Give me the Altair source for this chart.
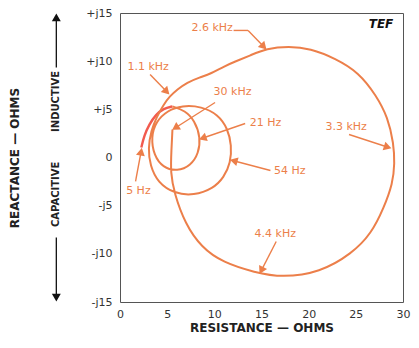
import altair as alt
import pandas as pd
import numpy as np

# ---- impedance locus (resistance, reactance) ----
start_r = [2.26, 2.57, 3.09, 3.81, 4.63, 5.56]
start_x = [1.04, 2.28, 3.43, 4.47, 5.09, 5.30]

main_r = [5.56, 6.89, 7.92, 8.54, 8.33, 7.51, 6.07, 4.53, 3.60, 3.29, 3.81, 5.04,
          6.58, 8.64, 10.39, 11.42, 11.83, 11.73, 11.01, 9.88, 7.82, 5.76, 4.01, 3.19,
          2.98, 3.29, 3.91, 4.63,
          5.25, 6.07, 7.10, 8.44, 9.67, 11.01, 12.24, 13.79, 15.53, 17.90,
          20.16, 22.84, 25.31, 27.16, 28.40, 29.01, 29.12, 28.91, 27.98, 26.65, 24.59,
          21.19, 17.18, 14.30, 10.91, 8.64, 6.89, 5.76, 5.35, 5.45, 5.56]
main_x = [5.30, 4.88, 3.84, 2.08, 0.42, -0.83, -1.45, -1.04, 0.21, 2.08, 3.74, 4.88,
          5.40, 5.30, 4.47, 3.01, 1.25, -0.52, -2.08, -3.22, -3.95, -3.74, -2.60, -0.83,
          0.93, 2.80, 4.26, 5.50,
          6.33, 7.06, 7.79, 8.31, 8.72, 9.45, 9.97, 10.59, 11.32, 11.53,
          11.32, 10.28, 8.83, 6.44, 4.15, 1.45, -0.62, -2.70, -5.19, -7.89, -9.97,
          -11.94, -12.46, -11.94, -10.90, -9.35, -6.85, -3.74, -1.56, 0.73, 2.91]

# ---- frequency labels ----
label_text = ["2.6 kHz", "1.1 kHz", "30 kHz", "21 Hz", "54 Hz", "3.3 kHz", "4.4 kHz", "5 Hz"]
label_r = [9.77, 2.98, 11.93, 15.43, 18.00, 23.97, 16.46, 1.95]
label_x = [13.40, 9.35, 6.85, 3.63, -1.45, 3.12, -7.89, -3.43]

# ---- label arrows: from (r1, x1) to tip (r2, x2) ----
arrow_r1 = [13.58, 3.19, 10.08, 13.27, 15.95, 24.28, 16.56, 1.65]
arrow_x1 = [13.19, 8.62, 5.71, 3.53, -1.35, 2.39, -8.72, -2.49]
arrow_r2 = [15.33, 5.04, 5.76, 8.64, 11.93, 28.50, 14.92, 2.26]
arrow_x2 = [11.42, 6.75, 3.01, 1.97, -0.31, 1.04, -11.84, 0.73]

# leader line after "2.6 kHz"
leader_r = [12.04, 13.58]
leader_x = [13.19, 13.19]

# ---- side annotations (outside the plot) ----
side_text = ["INDUCTIVE", "CAPACITIVE"]
side_r = [-6.75, -6.75]
side_x = [5.82, -3.82]
side_arrow_x1 = [9.35, -8.31]
side_arrow_x2 = [14.40, -14.40]

y_ticks = [-15, -10, -5, 0, 5, 10, 15]
x_ticks = [0, 5, 10, 15, 20, 25, 30]

ORANGE = "#EC7F4A"
RED = "#F25A4E"
FONT = "DejaVu Sans"

W, H = 283, 289
PX_R = W / 30.0
PX_X = H / 30.0

start_df = pd.DataFrame({"r": start_r, "x": start_x, "i": range(len(start_r))})
main_df = pd.DataFrame({"r": main_r, "x": main_x, "i": range(len(main_r))})
labels_df = pd.DataFrame({"t": label_text, "r": label_r, "x": label_x})
arrows_df = pd.DataFrame({"r1": arrow_r1, "x1": arrow_x1, "r2": arrow_r2, "x2": arrow_x2})

# arrowhead orientation and slight back-off from the tip (screen space)
dxp = (arrows_df.r2 - arrows_df.r1) * PX_R
dyp = -(arrows_df.x2 - arrows_df.x1) * PX_X
ang = (np.degrees(np.arctan2(dxp, -dyp)) + 360) % 360
length = np.hypot(dxp, dyp)
back = 2.5
arrows_df["hr"] = (arrows_df.r2 - (dxp / length) * back / PX_R).astype(float)
arrows_df["hx"] = (arrows_df.x2 + (dyp / length) * back / PX_X).astype(float)
arrows_df["ang"] = ang.astype(float)

leader_df = pd.DataFrame({"r": leader_r, "x": leader_x, "i": [0, 1]})
side_df = pd.DataFrame({"t": side_text, "r": side_r, "x": side_x})
side_arr_df = pd.DataFrame({"r": side_r, "x1": side_arrow_x1, "x2": side_arrow_x2,
                            "ang": [0.0, 180.0]})

xs = alt.Scale(domain=[0, 30], nice=False, zero=False)
ys = alt.Scale(domain=[-15, 15], nice=False, zero=False)

X = alt.X("r:Q", scale=xs, axis=alt.Axis(
    values=x_ticks, title="RESISTANCE — OHMS", grid=False, domain=False,
    ticks=False, tickSize=0, labelPadding=6, labelFontSize=11, labelFont=FONT,
    labelColor="#333", labelFlush=False, labelOverlap=False,
    titleFont=FONT, titleFontSize=12, titleFontWeight="bold",
    titleColor="#222", titlePadding=3))
Y = alt.Y("x:Q", scale=ys, axis=alt.Axis(
    values=y_ticks, title="REACTANCE — OHMS", grid=False, domain=False,
    ticks=False, tickSize=0, labelPadding=8, labelFontSize=11, labelFont=FONT,
    labelColor="#333", labelFlush=False, labelOverlap=False,
    labelExpr="datum.value == 0 ? '0' : (datum.value > 0 ? '+j' + datum.value : '-j' + abs(datum.value))",
    titleFont=FONT, titleFontSize=12, titleFontWeight="bold", titleColor="#222",
    titlePadding=64))

start_line = alt.Chart(start_df).mark_line(
    color=RED, strokeWidth=2.4, interpolate="basis").encode(x=X, y=Y, order="i:Q")
main_line = alt.Chart(main_df).mark_line(
    color=ORANGE, strokeWidth=2, interpolate="basis").encode(
    x=alt.X("r:Q", scale=xs), y=alt.Y("x:Q", scale=ys), order="i:Q")

arrow_lines = alt.Chart(arrows_df).mark_rule(color=ORANGE, strokeWidth=1.4).encode(
    x=alt.X("r1:Q", scale=xs), y=alt.Y("x1:Q", scale=ys), x2="r2:Q", y2="x2:Q")
arrow_heads = alt.Chart(arrows_df).mark_point(
    shape="triangle", filled=True, fill=ORANGE, stroke=ORANGE, size=30, opacity=1).encode(
    x=alt.X("hr:Q", scale=xs), y=alt.Y("hx:Q", scale=ys),
    angle=alt.Angle("ang:Q", scale=alt.Scale(domain=[0, 360], range=[0, 360])))
leader = alt.Chart(leader_df).mark_line(color=ORANGE, strokeWidth=1.4).encode(
    x=alt.X("r:Q", scale=xs), y=alt.Y("x:Q", scale=ys), order="i:Q")

labels = alt.Chart(labels_df).mark_text(
    color=ORANGE, font=FONT, fontSize=11, baseline="middle", align="center").encode(
    x=alt.X("r:Q", scale=xs), y=alt.Y("x:Q", scale=ys), text="t:N")

tef = alt.Chart(pd.DataFrame({"t": ["TEF"], "r": [27.67], "x": [13.81]})).mark_text(
    color="#111", font=FONT, fontSize=12, fontWeight="bold", fontStyle="italic",
    baseline="middle", align="center").encode(
    x=alt.X("r:Q", scale=xs), y=alt.Y("x:Q", scale=ys), text="t:N")

side_labels = alt.Chart(side_df).mark_text(
    color="#222", font=FONT, fontSize=10, fontWeight="bold", angle=270,
    baseline="middle", align="center").encode(
    x=alt.X("r:Q", scale=xs), y=alt.Y("x:Q", scale=ys), text="t:N")
side_lines = alt.Chart(side_arr_df).mark_rule(color="#111", strokeWidth=1.3).encode(
    x=alt.X("r:Q", scale=xs), y=alt.Y("x1:Q", scale=ys), y2="x2:Q")
side_heads = alt.Chart(side_arr_df).mark_point(
    shape="triangle", filled=True, fill="#111", stroke="#111", size=30, opacity=1).encode(
    x=alt.X("r:Q", scale=xs), y=alt.Y("x2:Q", scale=ys),
    angle=alt.Angle("ang:Q", scale=alt.Scale(domain=[0, 360], range=[0, 360])))

chart = alt.layer(
    start_line, main_line, arrow_lines, leader, arrow_heads, labels, tef,
    side_lines, side_heads, side_labels
).properties(
    width=W, height=H,
    autosize=alt.AutoSizeParams(type="none"),
    padding={"left": 112, "top": 5, "right": 8, "bottom": 32},
    background="white",
).configure_view(stroke="#555", strokeWidth=1)

chart.save("out.html", embed_options={"renderer": "svg", "actions": False})
